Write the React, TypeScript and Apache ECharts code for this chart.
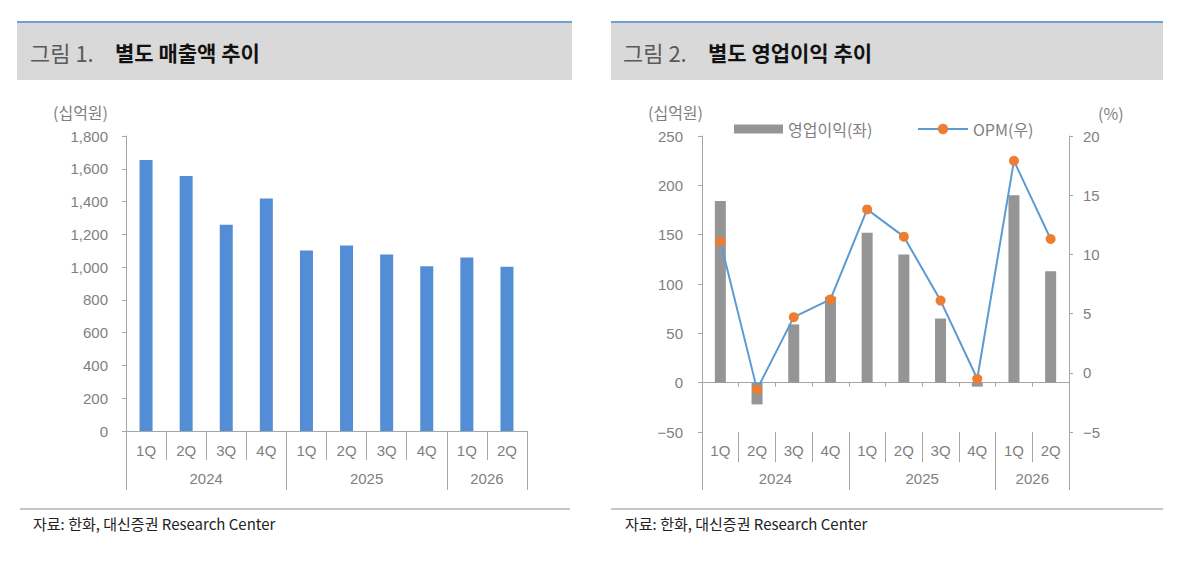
import React, { useEffect, useRef } from "react";
import * as echarts from "echarts";

// ---------- data ----------
const quarters = ["1Q", "2Q", "3Q", "4Q", "1Q", "2Q", "3Q", "4Q", "1Q", "2Q"];
const years = ["2024", "2025", "2026"];
const quartersPerYear = [4, 4, 2];
const revenue = [1654, 1556, 1258, 1418, 1101, 1132, 1077, 1006, 1058, 1002];
const operatingProfit = [184, -22, 59, 87, 152, 130, 65, -4, 190, 113];
const opm = [11.1, -1.4, 4.7, 6.2, 13.8, 11.5, 6.1, -0.5, 17.9, 11.3];
const revenueAxis = { min: 0, max: 1800, interval: 200 };
const profitAxis = { min: -50, max: 250, interval: 50 };
const opmAxis = { min: -5, max: 20, interval: 5 };

const title1 = ["그림 1.", "별도 매출액 추이"];
const title2 = ["그림 2.", "별도 영업이익 추이"];
const unitLeft = "(십억원)";
const unitPct = "(%)";
const source = "자료: 한화, 대신증권 Research Center";
const legendNames = ["영업이익(좌)", "OPM(우)"];

// ---------- styles ----------
const FONT = '"Liberation Sans", "Noto Sans CJK KR", sans-serif';
const KFONT = '"Noto Sans CJK KR", "Liberation Sans", sans-serif';
const AXIS_GRAY = "#a6a6a6";
const LABEL_GRAY = "#7f7f7f";

function buildYearAxis() {
  const total = quartersPerYear.reduce((a, b) => a + b, 0);
  const data: string[] = [];
  for (let i = 0; i <= total * 2; i++) data.push("_" + i);
  const boundaries = [0];
  let start = 0;
  years.forEach((y, i) => {
    const n = quartersPerYear[i];
    data[start * 2 + n] = y;
    start += n;
    boundaries.push(start * 2);
  });
  return { data, boundaries };
}

const minusFmt = (v: number) => String(v).replace("-", "−");

export default function App() {
  const ref = useRef<HTMLDivElement>(null);

  useEffect(() => {
    if (!ref.current) return;
    const chart = echarts.init(ref.current, undefined, { renderer: "svg" });
    const yearAxis = buildYearAxis();

    const axisLabelStyle = { color: LABEL_GRAY, fontSize: 15, fontFamily: FONT };

    const quarterAxis = (gridIndex: number, showLine: boolean, tickLen: number, margin: number) => ({
      type: "category",
      gridIndex,
      position: "bottom",
      data: quarters,
      boundaryGap: true,
      axisLine: { show: showLine, onZero: false, lineStyle: { color: AXIS_GRAY, width: 1 } },
      axisTick: { show: true, interval: 0, length: tickLen, lineStyle: { color: AXIS_GRAY } },
      axisLabel: { ...axisLabelStyle, interval: 0, margin },
      splitLine: { show: false },
    });

    const yearsAxis = (gridIndex: number, tickLen: number, margin: number) => ({
      type: "category",
      gridIndex,
      position: "bottom",
      data: yearAxis.data,
      boundaryGap: false,
      axisLine: { show: false, onZero: false },
      axisTick: {
        show: true,
        length: tickLen,
        interval: (idx: number) => yearAxis.boundaries.includes(idx),
        lineStyle: { color: AXIS_GRAY },
      },
      axisLabel: {
        ...axisLabelStyle,
        interval: 0,
        margin,
        formatter: (v: string) => (v.startsWith("_") ? "" : v),
      },
      splitLine: { show: false },
    });

    const legendText = { color: LABEL_GRAY, fontSize: 16, fontFamily: KFONT, lineHeight: 16 };

    const option: any = {
      animation: false,
      backgroundColor: "#ffffff",
      textStyle: { fontFamily: FONT },
      grid: [
        { left: 126, top: 136, width: 401, height: 295, containLabel: false },
        { left: 702, top: 136, width: 367, height: 296, containLabel: false },
      ],
      legend: [
        {
          left: 734,
          top: 121,
          padding: 0,
          itemWidth: 49,
          itemHeight: 9,
          icon: "rect",
          data: [legendNames[0]],
          textStyle: legendText,
        },
        {
          left: 917,
          top: 121,
          padding: 0,
          itemWidth: 50,
          itemHeight: 13,
          data: [legendNames[1]],
          textStyle: legendText,
        },
      ],
      xAxis: [
        quarterAxis(0, true, 29, 12),
        yearsAxis(0, 59, 40),
        {
          type: "category",
          gridIndex: 1,
          position: "bottom",
          data: quarters,
          boundaryGap: true,
          axisLine: { show: true, onZero: true, lineStyle: { color: AXIS_GRAY, width: 1 } },
          axisTick: { show: true, interval: 0, length: 4, lineStyle: { color: AXIS_GRAY } },
          axisLabel: { show: false },
          splitLine: { show: false },
        },
        quarterAxis(1, false, 30, 11),
        yearsAxis(1, 58, 39),
      ],
      yAxis: [
        {
          type: "value",
          gridIndex: 0,
          position: "left",
          min: revenueAxis.min,
          max: revenueAxis.max,
          interval: revenueAxis.interval,
          axisLine: { show: true, lineStyle: { color: AXIS_GRAY } },
          axisTick: { show: true, length: 4, lineStyle: { color: AXIS_GRAY } },
          axisLabel: {
            ...axisLabelStyle,
            margin: 18,
            formatter: (v: number) => v.toLocaleString("en-US"),
          },
          splitLine: { show: false },
        },
        {
          type: "value",
          gridIndex: 1,
          position: "left",
          min: profitAxis.min,
          max: profitAxis.max,
          interval: profitAxis.interval,
          axisLine: { show: true, lineStyle: { color: AXIS_GRAY } },
          axisTick: { show: true, length: 4, lineStyle: { color: AXIS_GRAY } },
          axisLabel: { ...axisLabelStyle, margin: 19, formatter: minusFmt },
          splitLine: { show: false },
        },
        {
          type: "value",
          gridIndex: 1,
          position: "right",
          min: opmAxis.min,
          max: opmAxis.max,
          interval: opmAxis.interval,
          axisLine: { show: true, lineStyle: { color: AXIS_GRAY } },
          axisTick: { show: true, length: 4, lineStyle: { color: AXIS_GRAY } },
          axisLabel: { ...axisLabelStyle, margin: 14, formatter: minusFmt },
          splitLine: { show: false },
        },
      ],
      series: [
        {
          name: "매출액",
          type: "bar",
          xAxisIndex: 0,
          yAxisIndex: 0,
          data: revenue,
          barWidth: 13,
          itemStyle: { color: "#538dd5" },
        },
        {
          name: legendNames[0],
          type: "bar",
          xAxisIndex: 2,
          yAxisIndex: 1,
          data: operatingProfit,
          barWidth: 11,
          itemStyle: { color: "#959595" },
        },
        {
          name: legendNames[1],
          type: "line",
          xAxisIndex: 2,
          yAxisIndex: 2,
          data: opm,
          symbol: "circle",
          symbolSize: 10,
          lineStyle: { color: "#5b9bd5", width: 2 },
          itemStyle: { color: "#ed7d31" },
          z: 5,
        },
      ],
      graphic: [
        // header bands
        { type: "rect", silent: true, shape: { x: 17, y: 23, width: 555, height: 57 }, style: { fill: "#d9d9d9" } },
        { type: "rect", silent: true, shape: { x: 611, y: 23, width: 552, height: 57 }, style: { fill: "#d9d9d9" } },
        { type: "line", silent: true, shape: { x1: 17, y1: 22, x2: 572, y2: 22 }, style: { stroke: "#6fa0dc", lineWidth: 2 } },
        { type: "line", silent: true, shape: { x1: 611, y1: 22, x2: 1163, y2: 22 }, style: { stroke: "#6fa0dc", lineWidth: 2 } },
        // titles
        { type: "text", x: 30, y: 52, style: { text: title1[0], fill: "#5a5a5a", font: `22px ${KFONT}`, verticalAlign: "middle" } },
        { type: "text", x: 115, y: 52, style: { text: title1[1], fill: "#111111", font: `bold 21px ${KFONT}`, verticalAlign: "middle" } },
        { type: "text", x: 623, y: 52, style: { text: title2[0], fill: "#5a5a5a", font: `22px ${KFONT}`, verticalAlign: "middle" } },
        { type: "text", x: 708, y: 52, style: { text: title2[1], fill: "#111111", font: `bold 21px ${KFONT}`, verticalAlign: "middle" } },
        // units
        { type: "text", x: 108, y: 112, style: { text: unitLeft, fill: LABEL_GRAY, font: `16px ${KFONT}`, align: "right", verticalAlign: "middle" } },
        { type: "text", x: 703, y: 112, style: { text: unitLeft, fill: LABEL_GRAY, font: `16px ${KFONT}`, align: "right", verticalAlign: "middle" } },
        { type: "text", x: 1098, y: 113, style: { text: unitPct, fill: LABEL_GRAY, font: `16px ${KFONT}`, align: "left", verticalAlign: "middle" } },
        // bottom rules
        { type: "line", silent: true, shape: { x1: 20, y1: 509, x2: 570, y2: 509 }, style: { stroke: "#8c8c8c", lineWidth: 1 } },
        { type: "line", silent: true, shape: { x1: 611, y1: 509, x2: 1163, y2: 509 }, style: { stroke: "#8c8c8c", lineWidth: 1 } },
        // sources
        { type: "text", x: 33, y: 523, style: { text: source, fill: "#222222", font: `15px ${KFONT}`, verticalAlign: "middle" } },
        { type: "text", x: 625, y: 523, style: { text: source, fill: "#222222", font: `15px ${KFONT}`, verticalAlign: "middle" } },
      ],
    };

    chart.setOption(option);
    return () => chart.dispose();
  }, []);

  return (
    <div
      ref={ref}
      style={{ position: "absolute", left: 0, top: 0, width: 1200, height: 575, background: "#fff" }}
    />
  );
}
